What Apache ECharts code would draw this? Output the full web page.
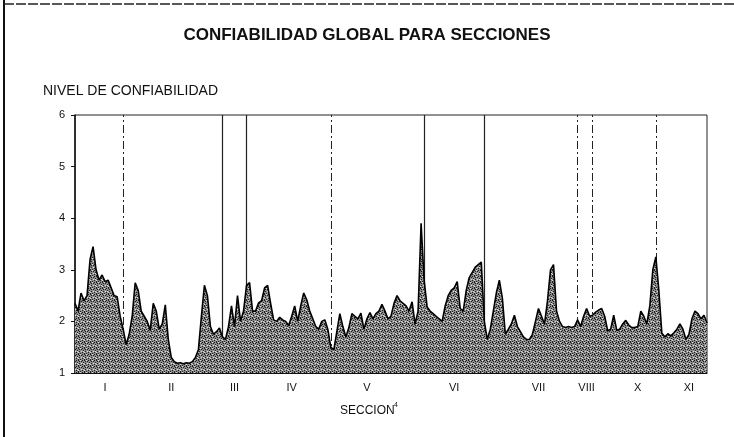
<!DOCTYPE html>
<html>
<head>
<meta charset="utf-8">
<script src="https://cdn.jsdelivr.net/npm/echarts@6/dist/echarts.min.js"></script>
<style>
html,body{margin:0;padding:0;background:#fff;}
#c{width:734px;height:437px;}
</style>
</head>
<body>
<div id="c"></div>
<script>
// Reliability level per record (left to right)
const nivel = [
2.35,2.2,2.55,2.4,2.5,3.2,3.45,3.0,2.8,2.9,2.77,2.8,2.65,2.5,2.48,2.1,1.85,1.55,1.75,2.1,
2.75,2.6,2.2,2.1,2.0,1.83,2.35,2.2,1.85,1.95,2.32,1.65,1.3,1.22,1.19,1.2,1.18,1.2,1.19,1.22,
1.3,1.45,2.1,2.7,2.5,1.9,1.75,1.8,1.87,1.7,1.65,1.9,2.3,1.9,2.5,2.0,2.2,2.7,2.75,2.2,
2.2,2.36,2.4,2.65,2.7,2.35,2.03,2.0,2.08,2.03,2.0,1.92,2.1,2.3,2.0,2.3,2.55,2.42,2.2,2.05,
1.9,1.85,2.0,2.03,1.85,1.5,1.45,1.8,2.15,1.9,1.7,1.88,2.15,2.1,2.05,2.16,1.85,2.05,2.17,2.05,
2.15,2.2,2.33,2.2,2.05,2.1,2.35,2.5,2.4,2.35,2.3,2.2,2.38,1.95,2.2,3.9,2.8,2.28,2.2,2.15,
2.1,2.05,2.0,2.3,2.5,2.6,2.65,2.77,2.25,2.2,2.6,2.85,2.95,3.05,3.1,3.15,2.0,1.65,1.85,2.2,
2.55,2.8,2.45,1.75,1.85,1.95,2.12,1.9,1.8,1.7,1.65,1.65,1.75,2.0,2.25,2.1,1.95,2.4,3.0,3.1,
2.2,2.0,1.9,1.88,1.9,1.88,1.9,2.03,1.9,2.1,2.25,2.1,2.12,2.18,2.22,2.25,2.1,1.82,1.85,2.12,
1.83,1.85,1.95,2.02,1.93,1.88,1.88,1.9,2.2,2.1,1.95,2.3,3.0,3.25,2.6,1.77,1.7,1.76,1.72,1.78,
1.85,1.95,1.85,1.65,1.75,2.05,2.2,2.15,2.05,2.12,1.97
];
const registros = nivel.map((_, i) => String(i + 1));

// Section names and the record where each name is printed
const secciones = ["I","II","III","IV","V","VI","VII","VIII","X","XI"];
const seccionEtiqueta = [10, 32, 53, 72, 97, 126, 154, 170, 187, 204];
// Records where a section ends (vertical dividers) and their line style
const divisores = [16, 49, 57, 85, 116, 136, 167, 172, 193];
const divisorSolido = [false, true, true, false, true, true, false, false, false];

const yTicks = [1, 2, 3, 4, 5, 6];

const labelMap = {};
seccionEtiqueta.forEach((idx, k) => { labelMap[idx] = secciones[k]; });

// Stipple texture for the filled area (fixed dot layout)
function stipple() {
  const c = document.createElement('canvas');
  c.width = 6; c.height = 6;
  const g = c.getContext('2d');
  g.fillStyle = '#8c8c8c';
  g.fillRect(0, 0, 6, 6);
  g.fillStyle = '#1e1e1e';
  [[0,0],[3,1],[1,3],[4,4],[2,5],[5,2],[1,1],[4,0],[0,5]].forEach(p => g.fillRect(p[0], p[1], 1, 1));
  g.fillStyle = '#dcdcdc';
  [[2,0],[5,3],[0,4],[3,3]].forEach(p => g.fillRect(p[0], p[1], 1, 1));
  return c;
}

const font = 'Liberation Sans, Arial, sans-serif';
const chart = echarts.init(document.getElementById('c'));
chart.setOption({
  animation: false,
  backgroundColor: '#fff',
  title: {
    text: 'CONFIABILIDAD GLOBAL PARA SECCIONES',
    left: 'center', top: 22,
    textStyle: {fontFamily: font, fontSize: 17, fontWeight: 'bold', color: '#111'}
  },
  graphic: [
    {type: 'line', shape: {x1: 4, y1: 0, x2: 4, y2: 437}, style: {stroke: '#111', lineWidth: 2}},
    {type: 'line', shape: {x1: 4, y1: 4, x2: 734, y2: 4}, style: {stroke: '#222', lineWidth: 1.5, lineDash: [10, 2]}},
    {type: 'text', left: 43, top: 84, style: {text: 'NIVEL DE CONFIABILIDAD', font: '14px ' + font, fill: '#111'}},
    {type: 'text', left: 340, top: 405, style: {text: 'SECCION', font: '12px ' + font, fill: '#111'}},
    {type: 'text', left: 394, top: 402, style: {text: '4', font: '7px ' + font, fill: '#111'}}
  ],
  grid: {left: 75, right: 27, top: 115, bottom: 64, show: true, borderColor: '#222', borderWidth: 1},
  xAxis: {
    type: 'category', data: registros, boundaryGap: false,
    axisLine: {lineStyle: {color: '#111'}},
    axisTick: {show: false},
    axisLabel: {
      interval: 0, margin: 9,
      fontFamily: font, fontSize: 11, color: '#111',
      formatter: (v, i) => labelMap[i] || ''
    }
  },
  yAxis: {
    type: 'value', min: 1, max: 6, interval: 1,
    splitLine: {show: false},
    axisLine: {show: true, lineStyle: {color: '#111', width: 1.5}},
    axisTick: {show: true, length: 4, lineStyle: {color: '#111'}},
    axisLabel: {fontFamily: font, fontSize: 11, color: '#111', margin: 10,
      formatter: v => yTicks.includes(v) ? String(v) : ''}
  },
  series: [{
    type: 'line',
    z: 1,
    data: [],
    markLine: {
      silent: true, symbol: 'none', label: {show: false}, z: 1,
      data: divisores.map((d, k) => ({
        xAxis: d,
        lineStyle: {color: '#222', width: divisorSolido[k] ? 1.2 : 1,
          type: divisorSolido[k] ? 'solid' : [8, 3, 2, 3]}
      }))
    }
  }, {
    type: 'line',
    z: 3,
    data: nivel,
    symbol: 'none',
    lineStyle: {color: '#000', width: 1.6},
    areaStyle: {color: {image: stipple(), repeat: 'repeat'}, opacity: 1, origin: 'start'}
  }]
});
</script>
</body>
</html>
